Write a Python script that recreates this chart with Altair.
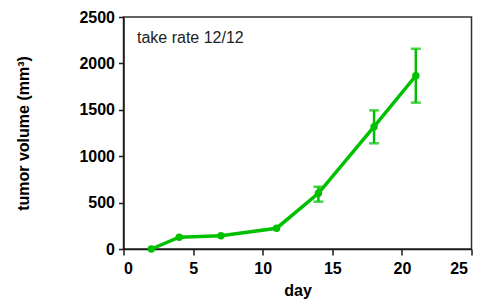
import altair as alt
import pandas as pd

days = [2, 4, 7, 11, 14, 18, 21]
volume = [0, 127, 143, 224, 600, 1318, 1867]
err_low = [0, 127, 143, 224, 510, 1139, 1577]
err_high = [0, 127, 143, 224, 671, 1494, 2158]
has_err = [False, False, False, False, True, True, True]

x_ticks = [0, 5, 10, 15, 20, 25]
y_ticks = [0, 500, 1000, 1500, 2000, 2500]
annotation = "take rate 12/12"

df = pd.DataFrame({"day": days, "volume": volume, "lo": err_low, "hi": err_high, "err": has_err})
err_df = df[df["err"]]

GREEN = "#00c000"
FONT = "Liberation Sans"
AX = "#1a1a1a"

xs = alt.Scale(domain=[0, 25], nice=False, zero=False)
ys = alt.Scale(domain=[0, 2500], nice=False)

x_enc = alt.X("day:Q", scale=xs, title="day",
              axis=alt.Axis(values=x_ticks, grid=False, format="d", labelFontSize=16, labelFontWeight="bold",
                            titleFontSize=16, titleFontWeight="bold", labelFont=FONT, titleFont=FONT,
                            labelColor="black", titleColor="black", domainColor=AX, tickColor=AX,
                            domainWidth=1.5, tickWidth=1.5, tickSize=6, labelPadding=5,
                            labelOffset={"condition": {"test": "datum.value == 25", "value": -4}, "value": 0},
                            titleY=46, titleBaseline="alphabetic"))
y_enc = alt.Y("volume:Q", scale=ys, title="tumor volume (mm³)",
              axis=alt.Axis(values=y_ticks, grid=False, format="d", labelFontSize=16, labelFontWeight="bold",
                            titleFontSize=16, titleFontWeight="bold", labelFont=FONT, titleFont=FONT,
                            labelColor="black", titleColor="black", domainColor=AX, tickColor=AX,
                            domainWidth=1.5, tickWidth=1.5, tickSize=5, labelPadding=4, titlePadding=47))

line = alt.Chart(df).mark_line(color=GREEN, strokeWidth=3.5).encode(x=x_enc, y=y_enc)
pts = alt.Chart(df).mark_point(color=GREEN, filled=True, opacity=1, size=55).encode(x="day:Q", y="volume:Q")
rules = alt.Chart(err_df).mark_rule(color=GREEN, strokeWidth=2.5).encode(x="day:Q", y="lo:Q", y2="hi:Q")
cap_lo = alt.Chart(err_df).mark_tick(color=GREEN, orient="horizontal", size=10, thickness=2.5).encode(x="day:Q", y="lo:Q")
cap_hi = alt.Chart(err_df).mark_tick(color=GREEN, orient="horizontal", size=10, thickness=2.5).encode(x="day:Q", y="hi:Q")
txt = alt.Chart(pd.DataFrame({"t": [annotation]})).mark_text(
    align="left", baseline="alphabetic", fontSize=16, font=FONT, color="#222"
).encode(text="t:N", x=alt.value(13.5), y=alt.value(25.5))

chart = alt.layer(line, rules, cap_lo, cap_hi, pts, txt).properties(
    width=348, height=232,
    autosize=alt.AutoSizeParams(type="none"),
    padding={"left": 115.5, "top": 9, "right": 4.5, "bottom": 51},
    background="white",
).configure_view(stroke="#333", strokeWidth=1.5)

chart.save("out.html", embed_options={"renderer": "svg", "actions": False})
